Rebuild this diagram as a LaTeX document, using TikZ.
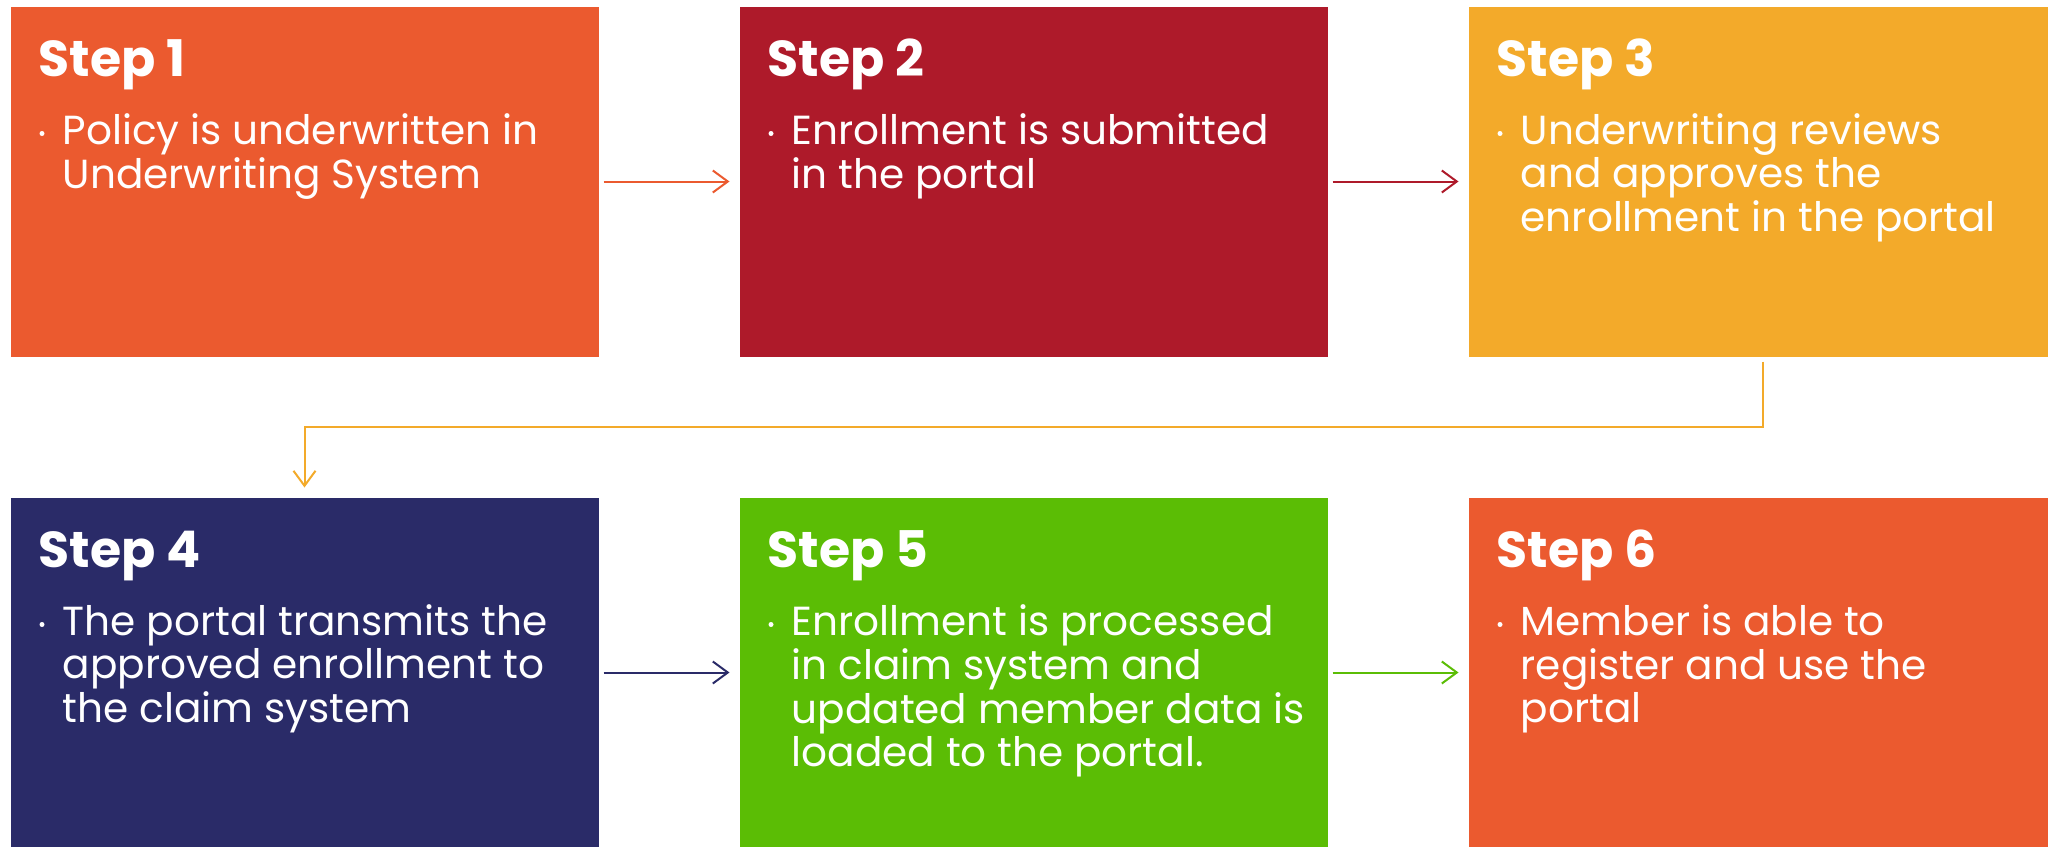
\documentclass[tikz,border=0pt]{standalone}
\usepackage{fontspec}
\setmainfont{Poppins}
\usetikzlibrary{positioning, calc, arrows.meta}

\definecolor{steporange}{HTML}{EB5A2F}
\definecolor{stepred}{HTML}{AE1A2A}
\definecolor{stepyellow}{HTML}{F3AA2A}
\definecolor{stepnavy}{HTML}{2A2B68}
\definecolor{stepgreen}{HTML}{5BBD05}

\newcommand{\steplines}[1]{\begin{tabular}[t]{@{}l@{}}#1\end{tabular}}

\begin{document}
\begin{tikzpicture}[x=1pt, y=1pt,
    stepbox/.style={rectangle, minimum width=588pt, minimum height=350pt, inner sep=0pt, outer sep=0pt},
    steptitle/.style={anchor=base west, inner sep=0pt, text=white, font=\fontsize{50.5}{55}\selectfont\bfseries},
    stepbody/.style={anchor=base west, inner sep=0pt, text=white, font=\fontsize{40.6}{43}\selectfont},
    flow/.style={-{Straight Barb[length=15pt, width=22pt, line width=2pt]}, line width=2pt, shorten <=5pt, shorten >=10pt}]

    \clip (0,0) rectangle (2048,-846);

    % Fila de arriba (pasos 1 a 3)
    \node[stepbox, fill=steporange, anchor=north west] (s1) at (10.5,-6.5) {};
    \node[stepbox, fill=stepred, right=141pt of s1] (s2) {};
    \node[stepbox, fill=stepyellow, right=141pt of s2] (s3) {};

    % Fila de abajo (pasos 4 a 6)
    \node[stepbox, fill=stepnavy, below=141pt of s1] (s4) {};
    \node[stepbox, fill=stepgreen, right=141pt of s4] (s5) {};
    \node[stepbox, fill=steporange, right=141pt of s5] (s6) {};

    % Titulos
    \node[steptitle] (t1) at ([shift={(28,-70)}]s1.north west) {Step 1};
    \node[steptitle] (t2) at ([shift={(28,-70)}]s2.north west) {Step 2};
    \node[steptitle] (t3) at ([shift={(28,-70)}]s3.north west) {Step 3};
    \node[steptitle] (t4) at ([shift={(28,-70)}]s4.north west) {Step 4};
    \node[steptitle] (t5) at ([shift={(28,-70)}]s5.north west) {Step 5};
    \node[steptitle] (t6) at ([shift={(28,-70)}]s6.north west) {Step 6};

    % Vinetas
    \foreach \s in {s1,s2,s3,s4,s5,s6}
        \fill[white] ([shift={(31.5,-127)}]\s.north west) circle (2.5pt);

    % Textos
    \node[stepbody] (b1) at ([shift={(52,-138)}]s1.north west)
        {\steplines{Policy is underwritten in\\Underwriting System}};
    \node[stepbody] (b2) at ([shift={(52,-138)}]s2.north west)
        {\steplines{Enrollment is submitted\\in the portal}};
    \node[stepbody] (b3) at ([shift={(52,-138)}]s3.north west)
        {\steplines{Underwriting reviews\\and approves the\\enrollment in the portal}};
    \node[stepbody] (b4) at ([shift={(52,-138)}]s4.north west)
        {\steplines{The portal transmits the\\approved enrollment to\\the claim system}};
    \node[stepbody] (b5) at ([shift={(52,-138)}]s5.north west)
        {\steplines{Enrollment is processed\\in claim system and\\updated member data is\\loaded to the portal.}};
    \node[stepbody] (b6) at ([shift={(52,-138)}]s6.north west)
        {\steplines{Member is able to\\register and use the\\portal}};

    % Flechas
    \draw[flow, steporange] (s1.east) -- (s2.west);
    \draw[flow, stepred] (s2.east) -- (s3.west);
    \draw[flow, stepyellow] (s3.south) |- ($(s3.south)!0.5!(s4.north)$) -| (s4.north);
    \draw[flow, stepnavy] (s4.east) -- (s5.west);
    \draw[flow, stepgreen] (s5.east) -- (s6.west);

\end{tikzpicture}
\end{document}
